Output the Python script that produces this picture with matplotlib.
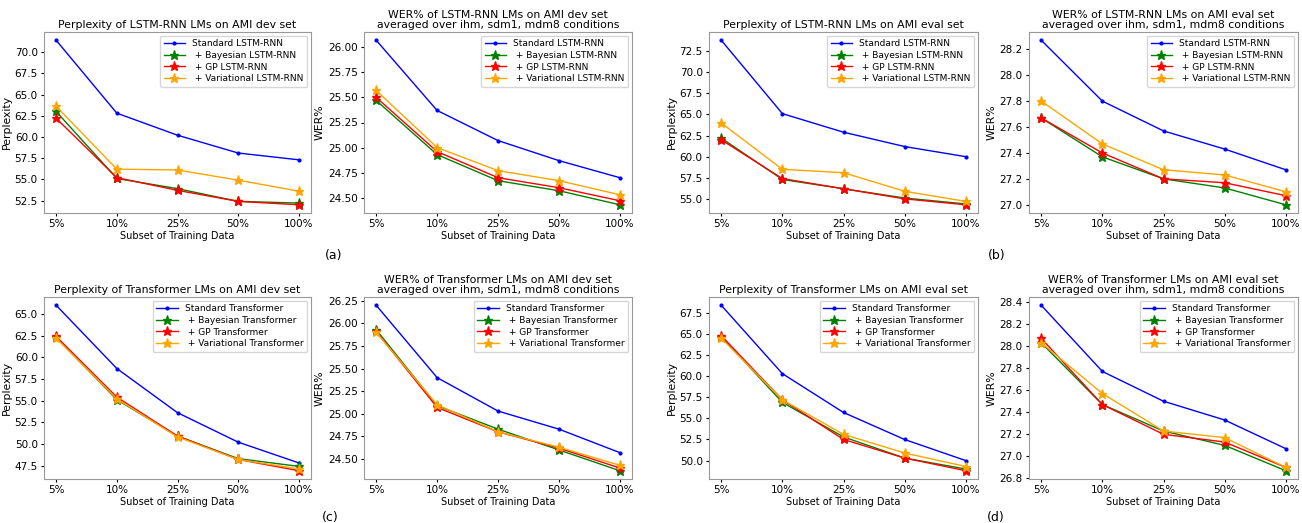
import matplotlib
matplotlib.use("Agg")
from matplotlib import pyplot as plt
from matplotlib.ticker import MultipleLocator, FormatStrFormatter

# x axis
subsets = ["5%", "10%", "25%", "50%", "100%"]

# (a) LSTM-RNN dev
lstm_dev_ppl_std = [71.4, 62.8, 60.2, 58.1, 57.3]
lstm_dev_ppl_bay = [63.0, 55.1, 53.9, 52.4, 52.2]
lstm_dev_ppl_gp = [62.2, 55.2, 53.7, 52.4, 52.0]
lstm_dev_ppl_var = [63.6, 56.2, 56.1, 54.9, 53.6]

lstm_dev_wer_std = [26.07, 25.37, 25.07, 24.87, 24.70]
lstm_dev_wer_bay = [25.47, 24.93, 24.67, 24.57, 24.43]
lstm_dev_wer_gp = [25.50, 24.96, 24.70, 24.60, 24.47]
lstm_dev_wer_var = [25.57, 25.00, 24.77, 24.67, 24.53]

# (b) LSTM-RNN eval
lstm_eval_ppl_std = [73.8, 65.1, 62.9, 61.2, 60.0]
lstm_eval_ppl_bay = [62.2, 57.3, 56.2, 55.1, 54.4]
lstm_eval_ppl_gp = [62.0, 57.4, 56.2, 55.0, 54.3]
lstm_eval_ppl_var = [64.0, 58.5, 58.1, 55.9, 54.7]

lstm_eval_wer_std = [28.27, 27.80, 27.57, 27.43, 27.27]
lstm_eval_wer_bay = [27.67, 27.37, 27.20, 27.13, 27.00]
lstm_eval_wer_gp = [27.67, 27.40, 27.20, 27.17, 27.07]
lstm_eval_wer_var = [27.80, 27.47, 27.27, 27.23, 27.10]

# (c) Transformer dev
tf_dev_ppl_std = [66.0, 58.7, 53.6, 50.2, 47.8]
tf_dev_ppl_bay = [62.3, 55.1, 50.9, 48.3, 47.4]
tf_dev_ppl_gp = [62.4, 55.4, 50.9, 48.2, 46.9]
tf_dev_ppl_var = [62.2, 55.2, 50.8, 48.2, 47.1]

tf_dev_wer_std = [26.20, 25.40, 25.03, 24.83, 24.57]
tf_dev_wer_bay = [25.93, 25.09, 24.83, 24.60, 24.37]
tf_dev_wer_gp = [25.91, 25.07, 24.80, 24.62, 24.40]
tf_dev_wer_var = [25.90, 25.10, 24.80, 24.63, 24.43]

# (d) Transformer eval
tf_eval_ppl_std = [68.4, 60.3, 55.7, 52.5, 50.0]
tf_eval_ppl_bay = [64.7, 56.9, 52.8, 50.3, 49.0]
tf_eval_ppl_gp = [64.8, 57.2, 52.5, 50.3, 48.8]
tf_eval_ppl_var = [64.5, 57.2, 53.1, 50.9, 49.3]

tf_eval_wer_std = [28.37, 27.77, 27.50, 27.33, 27.07]
tf_eval_wer_bay = [28.03, 27.47, 27.23, 27.10, 26.87]
tf_eval_wer_gp = [28.07, 27.47, 27.20, 27.13, 26.90]
tf_eval_wer_var = [28.03, 27.57, 27.23, 27.17, 26.90]

W, H = 1302, 523
fig = plt.figure(figsize=(W / 100, H / 100), dpi=100)


def px_axes(l, t, r, b):
    return fig.add_axes([l / W, 1 - b / H, (r - l) / W, (b - t) / H])


def draw(ax, model, std, bay, gp, var, title, ylabel, step, fmt):
    x = range(len(subsets))
    ax.plot(x, std, color="blue", marker=".", markersize=4, linewidth=1,
            label="Standard " + model)
    ax.plot(x, bay, color="green", marker="*", markersize=6.5, linewidth=1,
            label=" + Bayesian " + model)
    ax.plot(x, gp, color="red", marker="*", markersize=6.5, linewidth=1,
            label=" + GP " + model)
    ax.plot(x, var, color="orange", marker="*", markersize=6.5, linewidth=1,
            label=" + Variational " + model)
    ax.set_xticks(list(x))
    ax.set_xticklabels(subsets)
    ax.yaxis.set_major_locator(MultipleLocator(step))
    ax.yaxis.set_major_formatter(FormatStrFormatter(fmt))
    ax.tick_params(labelsize=7.5, length=2.5, pad=2)
    ax.set_xlabel("Subset of Training Data", fontsize=7, labelpad=1)
    ax.set_ylabel(ylabel, fontsize=7.8, labelpad=2)
    ax.set_title(title, fontsize=7.8, pad=3, linespacing=1.0)
    for s in ax.spines.values():
        s.set_color("#999999")
    ax.legend(loc="upper right", fontsize=6.5, handlelength=2.4,
              borderaxespad=0.4, labelspacing=0.3)


top = (32, 213)
bot = (297, 479)
cols = [(44, 311), (364, 632), (709, 978), (1029, 1298)]

ax = px_axes(cols[0][0], top[0], cols[0][1], top[1])
draw(ax, "LSTM-RNN", lstm_dev_ppl_std, lstm_dev_ppl_bay, lstm_dev_ppl_gp,
     lstm_dev_ppl_var, "Perplexity of LSTM-RNN LMs on AMI dev set", "Perplexity",
     2.5, "%.1f")
ax = px_axes(cols[1][0], top[0], cols[1][1], top[1])
draw(ax, "LSTM-RNN", lstm_dev_wer_std, lstm_dev_wer_bay, lstm_dev_wer_gp,
     lstm_dev_wer_var,
     "WER% of LSTM-RNN LMs on AMI dev set\naveraged over ihm, sdm1, mdm8 conditions", "WER%",
     0.25, "%.2f")
ax = px_axes(cols[2][0], top[0], cols[2][1], top[1])
draw(ax, "LSTM-RNN", lstm_eval_ppl_std, lstm_eval_ppl_bay, lstm_eval_ppl_gp,
     lstm_eval_ppl_var, "Perplexity of LSTM-RNN LMs on AMI eval set", "Perplexity",
     2.5, "%.1f")
ax = px_axes(cols[3][0], top[0], cols[3][1], top[1])
draw(ax, "LSTM-RNN", lstm_eval_wer_std, lstm_eval_wer_bay, lstm_eval_wer_gp,
     lstm_eval_wer_var,
     "WER% of LSTM-RNN LMs on AMI eval set\naveraged over ihm, sdm1, mdm8 conditions", "WER%",
     0.2, "%.1f")

ax = px_axes(cols[0][0], bot[0], cols[0][1], bot[1])
draw(ax, "Transformer", tf_dev_ppl_std, tf_dev_ppl_bay, tf_dev_ppl_gp,
     tf_dev_ppl_var, "Perplexity of Transformer LMs on AMI dev set", "Perplexity",
     2.5, "%.1f")
ax = px_axes(cols[1][0], bot[0], cols[1][1], bot[1])
draw(ax, "Transformer", tf_dev_wer_std, tf_dev_wer_bay, tf_dev_wer_gp,
     tf_dev_wer_var,
     "WER% of Transformer LMs on AMI dev set\naveraged over ihm, sdm1, mdm8 conditions", "WER%",
     0.25, "%.2f")
ax = px_axes(cols[2][0], bot[0], cols[2][1], bot[1])
draw(ax, "Transformer", tf_eval_ppl_std, tf_eval_ppl_bay, tf_eval_ppl_gp,
     tf_eval_ppl_var, "Perplexity of Transformer LMs on AMI eval set", "Perplexity",
     2.5, "%.1f")
ax = px_axes(cols[3][0], bot[0], cols[3][1], bot[1])
draw(ax, "Transformer", tf_eval_wer_std, tf_eval_wer_bay, tf_eval_wer_gp,
     tf_eval_wer_var,
     "WER% of Transformer LMs on AMI eval set\naveraged over ihm, sdm1, mdm8 conditions", "WER%",
     0.2, "%.1f")

# panel labels
for lab, xp, yp in [("(a)", 334, 255), ("(b)", 997, 255), ("(c)", 330, 517), ("(d)", 996, 517)]:
    fig.text(xp / W, 1 - yp / H, lab, fontsize=9, ha="center", va="center")

fig.savefig("out.png", dpi=100)
